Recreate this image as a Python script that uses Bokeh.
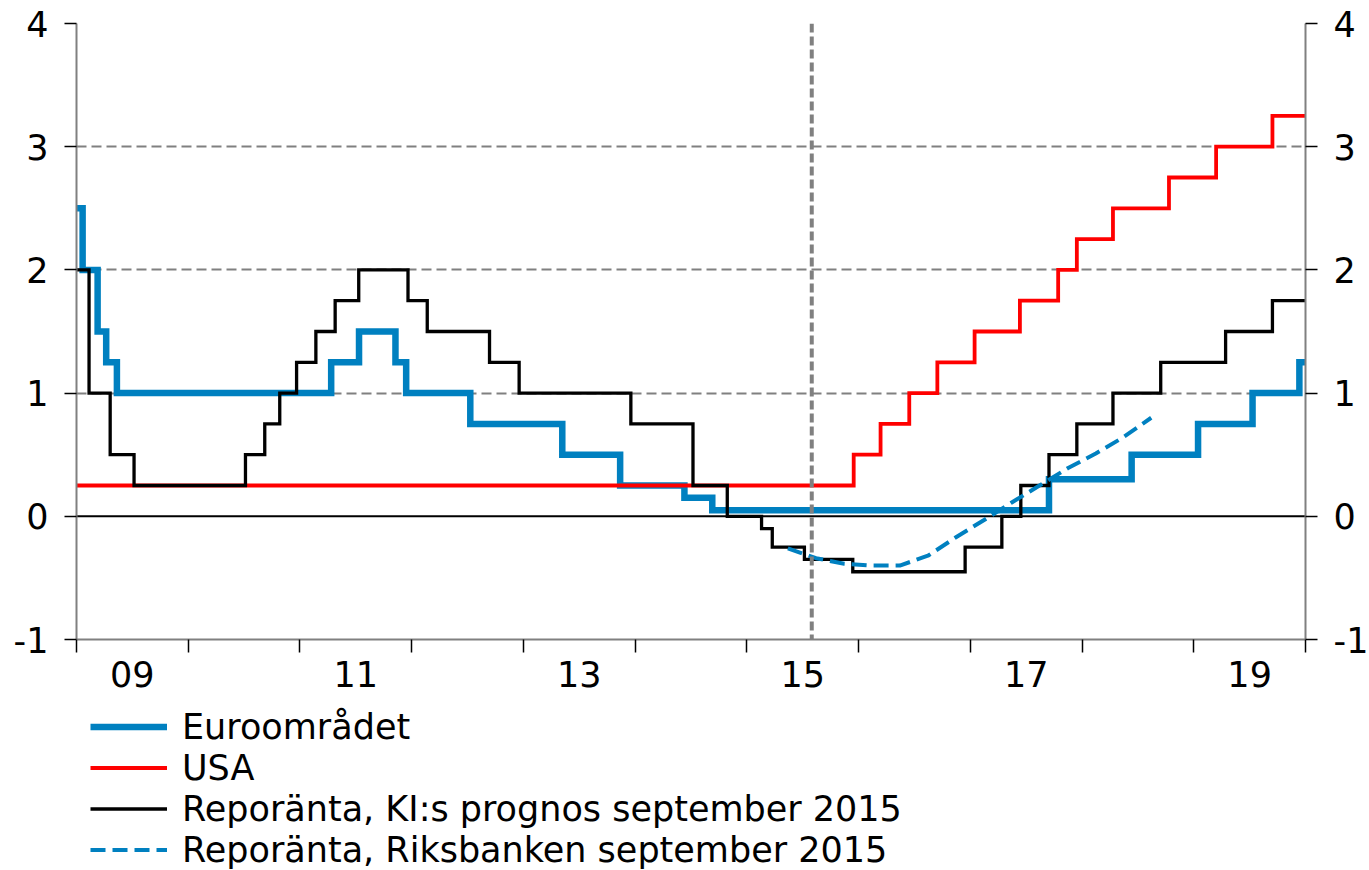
import numpy as np
import pandas as pd
from bokeh.plotting import figure
from bokeh.layouts import column
from bokeh.models import LinearAxis, FixedTicker, Span, Legend, LegendItem, Range1d, Grid
from bokeh.embed import file_html
from bokeh.resources import INLINE

# ---------------- data ----------------
axis_start = "2009-01-01"
axis_end = "2020-01-01"
forecast_start = "2015-08-01"

euro_dates = ["2009-01-01", "2009-01-21", "2009-03-11", "2009-04-08", "2009-05-13",
              "2011-04-13", "2011-07-13", "2011-11-09", "2011-12-14", "2012-07-11",
              "2013-05-08", "2013-11-13", "2014-06-11", "2014-09-10",
              "2017-09-15", "2018-06-12", "2019-01-15", "2019-07-12", "2019-12-12"]
euro_rates = [2.50, 2.00, 1.50, 1.25, 1.00,
              1.25, 1.50, 1.25, 1.00, 0.75,
              0.50, 0.25, 0.15, 0.05,
              0.30, 0.50, 0.75, 1.00, 1.25]

usa_dates = ["2009-01-01", "2015-12-16", "2016-03-13", "2016-06-15", "2016-09-15",
             "2017-01-15", "2017-06-12", "2017-10-15", "2017-12-15", "2018-04-12",
             "2018-10-12", "2019-03-15", "2019-09-15"]
usa_rates = [0.25, 0.50, 0.75, 1.00, 1.25,
             1.50, 1.75, 2.00, 2.25, 2.50,
             2.75, 3.00, 3.25]

ki_dates = ["2009-01-01", "2009-02-11", "2009-04-21", "2009-07-08", "2010-07-07",
            "2010-09-08", "2010-10-27", "2010-12-21", "2011-02-22", "2011-04-26",
            "2011-07-12", "2011-12-20", "2012-02-21", "2012-09-12", "2012-12-18",
            "2013-12-18", "2014-07-09", "2014-10-29", "2015-02-18", "2015-03-25",
            "2015-07-08", "2015-12-13", "2016-12-15", "2017-04-14", "2017-06-15",
            "2017-09-15", "2017-12-15", "2018-04-12", "2018-09-15", "2019-04-15",
            "2019-09-15"]
ki_rates = [2.00, 1.00, 0.50, 0.25, 0.50,
            0.75, 1.00, 1.25, 1.50, 1.75,
            2.00, 1.75, 1.50, 1.25, 1.00,
            0.75, 0.25, 0.00, -0.10, -0.25,
            -0.35, -0.45, -0.25, 0.00, 0.25,
            0.50, 0.75, 1.00, 1.25, 1.50,
            1.75]

rb_dates = ["2015-05-15", "2015-08-15", "2015-11-15", "2016-02-15", "2016-05-15",
            "2016-08-15", "2016-11-15", "2017-02-15", "2017-05-15", "2017-08-15",
            "2017-11-15", "2018-02-15", "2018-05-15", "2018-08-15"]
rb_rates = [-0.26, -0.34, -0.385, -0.40, -0.40,
            -0.32, -0.17, -0.03, 0.11, 0.25,
            0.39, 0.51, 0.64, 0.80]

x_label_years = [2009, 2011, 2013, 2015, 2017, 2019]
x_tick_labels = ["09", "11", "13", "15", "17", "19"]
x_boundary_years = list(range(2009, 2021))
y_ticks = [-1, 0, 1, 2, 3, 4]
y_tick_labels = ["-1", "0", "1", "2", "3", "4"]
y_grid_ticks = [1, 2, 3, 4]

series_labels = ["Euroområdet", "USA",
                 "Reporänta, KI:s prognos september 2015",
                 "Reporänta, Riksbanken september 2015"]

# ---------------- helpers ----------------
def dec_year(dates):
    d = pd.to_datetime(pd.Series(dates))
    days = np.where(d.dt.is_leap_year, 366.0, 365.0)
    return list(d.dt.year + (d.dt.dayofyear - 1) / days)

def step_xy(dates, rates):
    x = dec_year(dates) + dec_year([axis_end])
    y = list(rates) + [rates[-1]]
    return x, y

FONT = "DejaVu Sans"
FS = "35px"
BLUE = "#0080c0"
RED = "#ff0000"
GRAY = "#808080"

styles = [
    dict(line_color=BLUE, line_width=6.5, line_join="miter"),
    dict(line_color=RED, line_width=3.8, line_join="miter"),
    dict(line_color="black", line_width=3.3, line_join="miter"),
    dict(line_color=BLUE, line_width=4, line_dash="15 7"),
]

x0, x1 = dec_year([axis_start, axis_end])

ex, ey = step_xy(euro_dates, euro_rates)
ux, uy = step_xy(usa_dates, usa_rates)
kx, ky = step_xy(ki_dates, ki_rates)
rx = dec_year(rb_dates)

# ---------------- main chart ----------------
p = figure(frame_width=1229, frame_height=616,
           min_border_left=76, min_border_right=64, min_border_top=23, min_border_bottom=60,
           x_range=Range1d(x0, x1), y_range=Range1d(-1, 4),
           x_axis_type=None, y_axis_type=None,
           output_backend="svg", toolbar_location=None)
p.outline_line_color = None
p.background_fill_color = "white"
p.border_fill_color = "white"

grid = Grid(dimension=1, ticker=FixedTicker(ticks=y_grid_ticks),
            grid_line_color=GRAY, grid_line_width=2, grid_line_dash="10 5")
p.add_layout(grid)

zero = Span(location=0, dimension="width", line_color="black", line_width=2, level="underlay")
p.add_layout(zero)

def style_y(ax):
    ax.ticker = FixedTicker(ticks=y_ticks)
    ax.major_label_overrides = {t: s for t, s in zip(y_ticks, y_tick_labels)}
    ax.axis_line_color = GRAY
    ax.axis_line_width = 2
    ax.major_tick_out = 12
    ax.major_tick_in = 0
    ax.major_tick_line_color = "black"
    ax.major_tick_line_width = 1.5
    ax.minor_tick_line_color = None
    ax.major_label_standoff = 16
    ax.major_label_text_font = FONT
    ax.major_label_text_font_size = FS
    ax.major_label_text_color = "black"

yl = LinearAxis()
style_y(yl)
p.add_layout(yl, "left")
yr = LinearAxis()
style_y(yr)
p.add_layout(yr, "right")

label_pos = [y + 0.5 for y in x_label_years]
xa = LinearAxis(ticker=FixedTicker(ticks=label_pos, minor_ticks=x_boundary_years))
xa.major_label_overrides = {pos: lab for pos, lab in zip(label_pos, x_tick_labels)}
xa.axis_line_color = GRAY
xa.axis_line_width = 2
xa.major_tick_out = 0
xa.major_tick_in = 0
xa.major_tick_line_color = None
xa.minor_tick_out = 13
xa.minor_tick_in = 0
xa.minor_tick_line_color = "black"
xa.minor_tick_line_width = 1.5
xa.major_label_standoff = 8
xa.major_label_text_font = FONT
xa.major_label_text_font_size = FS
xa.major_label_text_color = "black"
p.add_layout(xa, "below")

p.step(ex, ey, mode="after", **styles[0])
p.step(ux, uy, mode="after", **styles[1])
p.step(kx, ky, mode="after", **styles[2])
p.line(rx, rb_rates, **styles[3])

vline = Span(location=dec_year([forecast_start])[0], dimension="height",
             line_color=GRAY, line_width=4, line_dash="9 4")
p.add_layout(vline)

# ---------------- legend strip below ----------------
# The same series are drawn here outside the visible range, only to feed the legend.
lf = figure(width=1369, height=171,
            min_border_left=0, min_border_right=0, min_border_top=0, min_border_bottom=0,
            x_range=Range1d(0, 1), y_range=Range1d(10, 11),
            x_axis_type=None, y_axis_type=None,
            output_backend="svg", toolbar_location=None)
lf.outline_line_color = None
lf.background_fill_color = "white"
lf.border_fill_color = "white"

legend_renderers = [
    lf.step(ex, ey, mode="after", **styles[0]),
    lf.step(ux, uy, mode="after", **styles[1]),
    lf.step(kx, ky, mode="after", **styles[2]),
    lf.line(rx, rb_rates, **styles[3]),
]

legend = Legend(items=[LegendItem(label=lab, renderers=[r])
                       for lab, r in zip(series_labels, legend_renderers)],
                location=(14, 0), orientation="vertical",
                glyph_width=77, glyph_height=41, label_height=41, label_standoff=15,
                spacing=0, padding=0, margin=0,
                label_text_font=FONT, label_text_font_size=FS, label_text_color="black",
                border_line_color=None, background_fill_alpha=0)
lf.add_layout(legend)

layout = column(p, lf, spacing=0)
open("out.html", "w").write(file_html(layout, INLINE))
